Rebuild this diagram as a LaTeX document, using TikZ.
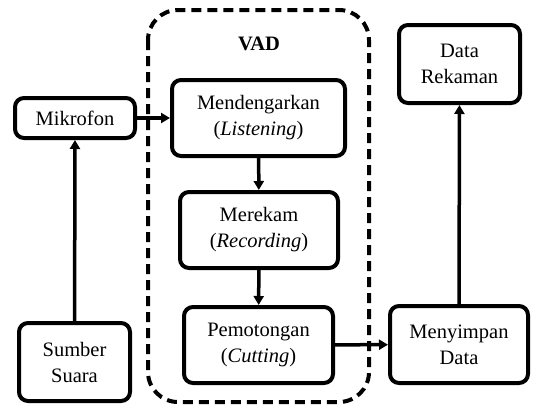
\documentclass[tikz,border=0pt]{standalone}
\usepackage{fontspec}
\setmainfont{Liberation Serif}
\usetikzlibrary{arrows.meta}
\begin{document}
\begin{tikzpicture}[x=1pt,y=-1pt,
  box/.style={draw, line width=4pt, rounded corners=9pt, align=center, inner sep=0pt,
    font=\fontsize{20.5}{26}\selectfont},
  conn/.style={line width=3.5pt, -{Triangle[length=9pt,width=10pt]}},
  lbl/.style={font=\fontsize{20.5}{26}\selectfont\bfseries}]
\useasboundingbox (0,0) rectangle (542,418);
\draw[line width=4pt, dash pattern=on 10pt off 6pt, rounded corners=30pt] (148,10) rectangle (369,402);
\node[lbl] (vad) at (259,44) {VAD};
\node[box, minimum width=120pt, minimum height=40pt] (mik) at (75,118) {Mikrofon};
\node[box, minimum width=111pt, minimum height=78pt] (sum) at (74.5,362) {Sumber\\Suara};
\node[box, minimum width=173pt, minimum height=76pt] (den) at (258.5,118) {Mendengarkan\\(\textit{Listening})};
\node[box, minimum width=158pt, minimum height=76pt] (rek) at (259,230) {Merekam\\(\textit{Recording})};
\node[box, minimum width=149pt, minimum height=76pt] (pot) at (258.5,345) {Pemotongan\\(\textit{Cutting})};
\node[box, minimum width=138pt, minimum height=77pt] (sim) at (459,344.5) {Menyimpan\\Data};
\node[box, minimum width=121pt, minimum height=78pt] (dat) at (459.5,64) {Data\\Rekaman};
\draw[conn] (sum) -- (mik);
\draw[conn] (mik) -- (den);
\draw[conn] (den) -- (rek);
\draw[conn] (rek) -- (pot);
\draw[conn] (pot) -- (sim);
\draw[conn] (sim) -- (dat);
\end{tikzpicture}
\end{document}
